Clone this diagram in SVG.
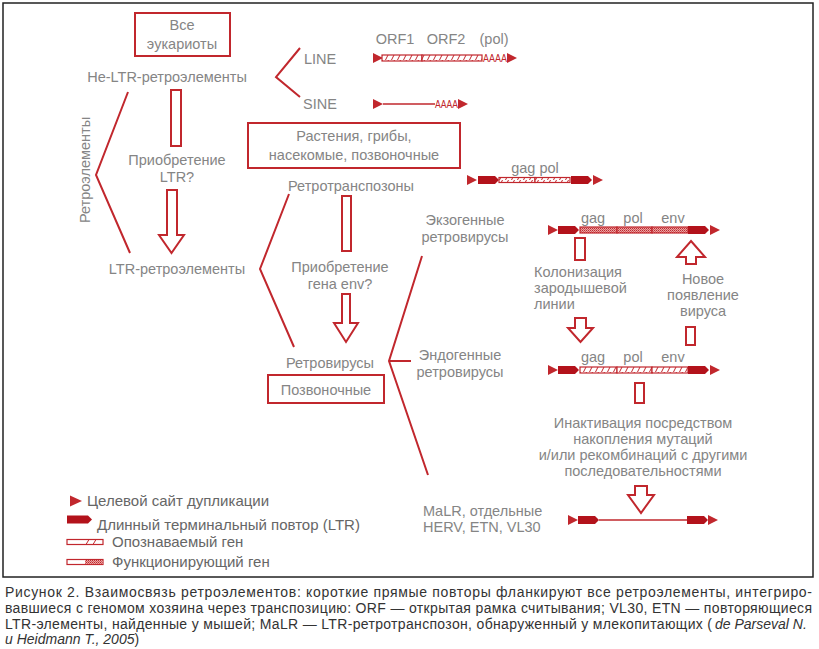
<svg xmlns="http://www.w3.org/2000/svg" width="819" height="649" viewBox="0 0 819 649">
<style>
.t{font-family:"Liberation Sans",Arial,sans-serif;font-size:14.5px;fill:#858585}
.c{text-anchor:middle}
.lg{font-family:"Liberation Sans",Arial,sans-serif;font-size:15px;fill:#666}
.cap{font-family:"Liberation Sans",Arial,sans-serif;font-size:14px;fill:#333}
.box{fill:#fff;stroke:#c1272d;stroke-width:2}
.br{fill:none;stroke:#c1272d;stroke-width:2}
.ha{fill:#fff;stroke:#c1272d;stroke-width:2}
.ln{stroke:#c1272d;stroke-width:1.3;fill:none}
.gh{fill:url(#hatch);stroke:#c1272d;stroke-width:1.2}
.gf{fill:url(#func);stroke:#c1272d;stroke-width:1.2}
.aa{font-family:"Liberation Sans",Arial,sans-serif;font-size:11px;fill:#c1272d}
</style>
<defs>
<pattern id="hatch" width="6" height="6" patternUnits="userSpaceOnUse"><rect width="6" height="6" fill="#fff"/><path d="M1.5,6 L4.5,0" stroke="#c1272d" stroke-width="1"/></pattern>
<pattern id="func" width="2" height="2" patternUnits="userSpaceOnUse"><rect width="2" height="2" fill="#e9a5a5"/><rect width="1" height="1" fill="#c1272d"/><rect x="1" y="1" width="1" height="1" fill="#d35b5b"/></pattern>
<polygon id="tsd" points="0,-5 10,0 0,5" fill="#c1272d"/>
<polygon id="ltr" points="0,-4 17,-4 21,0 17,4 0,4" fill="#b3121b"/>
</defs>
<rect x="3" y="3" width="810" height="574" fill="#fff" stroke="#222" stroke-width="1.5"/>

<g id="connectors">
<polyline class="br" points="128,92 96,175 130,253"/>
<polyline class="br" points="300,48 276,77 300,97"/>
<polyline class="br" points="289,194 260,269 294,347"/>
<polyline class="br" points="422,256 389,361 428,475"/>
<line class="br" x1="389" y1="361" x2="411" y2="361"/>
</g>

<g id="node-eukaryotes">
<rect class="box" x="135" y="13" width="95" height="43"/>
<text class="t c" x="182" y="30">Все</text>
<text class="t c" x="182" y="49">эукариоты</text>
</g>
<g id="node-nonltr"><text class="t c" x="167" y="82" font-size="15.5">Не-LTR-ретроэлементы</text></g>
<g id="node-line-label"><text class="t c" x="320" y="64">LINE</text></g>
<g id="node-sine-label"><text class="t c" x="320" y="109">SINE</text></g>
<g id="node-line-element">
<text class="t c" x="395" y="44">ORF1</text>
<text class="t c" x="446" y="44">ORF2</text>
<text class="t c" x="494" y="44">(pol)</text>
<use href="#tsd" x="373" y="58"/>
<rect class="gh" x="382" y="55" width="40" height="6"/>
<rect class="gh" x="422" y="55" width="60" height="6"/>
<text class="aa" x="483" y="62" textLength="24" lengthAdjust="spacingAndGlyphs">AAAA</text>
<use href="#tsd" x="507" y="58"/>
</g>
<g id="node-sine-element">
<use href="#tsd" x="373" y="104"/>
<line class="ln" x1="383" y1="104" x2="435" y2="104"/>
<text class="aa" x="435" y="108" textLength="23" lengthAdjust="spacingAndGlyphs">AAAA</text>
<use href="#tsd" x="458" y="104"/>
</g>
<g id="node-acq-ltr">
<rect class="ha" x="171" y="90" width="10" height="56"/>
<text class="t c" x="177" y="165">Приобретение</text>
<text class="t c" x="177" y="182">LTR?</text>
<polygon class="ha" points="167,190 177,190 177,235 184,235 171.5,253 159,235 167,235"/>
</g>
<g id="node-ltr"><text class="t c" x="177" y="274" font-size="15.5">LTR-ретроэлементы</text></g>
<g id="node-retroelements"><text class="t c" transform="translate(90,170) rotate(-90)" font-size="15.5">Ретроэлементы</text></g>
<g id="node-plants">
<rect class="box" x="248" y="123" width="212" height="45"/>
<text class="t c" x="354" y="141">Растения, грибы,</text>
<text class="t c" x="354" y="160">насекомые, позвоночные</text>
</g>
<g id="node-retrotransposons"><text class="t c" x="351" y="191" font-size="15">Ретротранспозоны</text></g>
<g id="node-rt-element">
<text class="t c" x="535" y="173">gag pol</text>
<use href="#tsd" x="467" y="180"/>
<use href="#ltr" x="478" y="180"/>
<rect class="gh" x="499" y="177.5" width="36" height="5"/>
<rect class="gh" x="535" y="177.5" width="35" height="5"/>
<use href="#ltr" x="571" y="180"/>
<use href="#tsd" x="593" y="180"/>
</g>
<g id="node-acq-env">
<rect class="ha" x="342" y="196" width="9" height="55"/>
<text class="t c" x="340" y="272">Приобретение</text>
<text class="t c" x="340" y="289">гена env?</text>
<polygon class="ha" points="342,294 350,294 350,323 358,323 346,342 334,323 342,323"/>
</g>
<g id="node-retroviruses"><text class="t c" x="330" y="368" font-size="15">Ретровирусы</text></g>
<g id="node-vertebrates">
<rect class="box" x="268" y="375" width="116" height="28"/>
<text class="t c" x="326" y="395" font-size="15">Позвоночные</text>
</g>
<g id="node-exo-label">
<text class="t c" x="465" y="225">Экзогенные</text>
<text class="t c" x="465" y="242">ретровирусы</text>
</g>
<g id="node-exo-element">
<text class="t c" x="593" y="223">gag</text>
<text class="t c" x="633" y="223">pol</text>
<text class="t c" x="673" y="223">env</text>
<use href="#tsd" x="548" y="230"/>
<use href="#ltr" x="558" y="230"/>
<rect class="gf" x="580" y="227" width="37" height="6"/>
<rect class="gf" x="617" y="227" width="35" height="6"/>
<rect class="gf" x="652" y="227" width="36" height="6"/>
<use href="#ltr" x="688" y="230"/>
<use href="#tsd" x="710" y="230"/>
</g>
<g id="node-colonization">
<rect class="ha" x="575" y="238" width="10" height="22"/>
<text class="t" x="534" y="277">Колонизация</text>
<text class="t" x="534" y="293">зародышевой</text>
<text class="t" x="534" y="309">линии</text>
<polygon class="ha" points="575,318 586,318 586,328 593,328 580.5,342 568,328 575,328"/>
</g>
<g id="node-new-virus">
<polygon class="ha" points="691,241 705,257 696,257 696,264 686,264 686,257 677,257"/>
<text class="t c" x="703" y="284">Новое</text>
<text class="t c" x="703" y="300">появление</text>
<text class="t c" x="703" y="316">вируса</text>
<rect class="ha" x="686" y="327" width="9" height="18"/>
</g>
<g id="node-endo-label">
<text class="t c" x="460" y="360">Эндогенные</text>
<text class="t c" x="460" y="377">ретровирусы</text>
</g>
<g id="node-endo-element">
<text class="t c" x="593" y="362">gag</text>
<text class="t c" x="633" y="362">pol</text>
<text class="t c" x="673" y="362">env</text>
<use href="#tsd" x="548" y="370"/>
<use href="#ltr" x="558" y="370"/>
<rect class="gh" x="580" y="367" width="37" height="6"/>
<rect class="gh" x="617" y="367" width="35" height="6"/>
<rect class="gh" x="652" y="367" width="36" height="6"/>
<use href="#ltr" x="688" y="370"/>
<use href="#tsd" x="710" y="370"/>
</g>
<g id="node-inactivation">
<rect class="ha" x="635" y="383" width="9" height="20"/>
<text class="t c" x="643" y="428">Инактивация посредством</text>
<text class="t c" x="643" y="444">накопления мутаций</text>
<text class="t c" x="643" y="460">и/или рекомбинаций с другими</text>
<text class="t c" x="643" y="476">последовательностями</text>
<polygon class="ha" points="635,486 647,486 647,495 654,495 641,513 628,495 635,495"/>
</g>
<g id="node-malr-label">
<text class="t" x="423" y="516">MaLR, отдельные</text>
<text class="t" x="423" y="532">HERV, ETN, VL30</text>
</g>
<g id="node-malr-element">
<use href="#tsd" x="568" y="520"/>
<use href="#ltr" x="578" y="520"/>
<line class="ln" x1="599" y1="520" x2="687" y2="520"/>
<use href="#ltr" x="687" y="520"/>
<use href="#tsd" x="708" y="520"/>
</g>
<g id="legend">
<polygon points="70,495.5 82,501 70,506.5" fill="#c1272d"/>
<text class="lg" x="87" y="506">Целевой сайт дупликации</text>
<polygon points="67,515.5 88,515.5 92,519.5 88,523.5 67,523.5" fill="#b3121b"/>
<text class="lg" x="97" y="530">Длинный терминальный повтор (LTR)</text>
<rect x="67" y="539.5" width="36" height="5" fill="#fff" stroke="#c1272d" stroke-width="1.2"/>
<path d="M86,544.5 L89,539.5 M93,544.5 L96,539.5" stroke="#c1272d" stroke-width="1"/>
<text class="lg" x="112" y="547">Опознаваемый ген</text>
<rect x="67" y="559.5" width="36" height="5" fill="#fff" stroke="#c1272d" stroke-width="1.2"/>
<rect x="85" y="560" width="17.5" height="4" fill="url(#func)"/>
<text class="lg" x="112" y="567">Функционирующий ген</text>
</g>
<g id="caption">
<text class="cap" x="5" y="597" textLength="807" lengthAdjust="spacing">Рисунок 2. Взаимосвязь ретроэлементов: короткие прямые повторы фланкируют все ретроэлементы, интегриро-</text>
<text class="cap" x="5" y="613" textLength="807" lengthAdjust="spacing">вавшиеся с геномом хозяина через транспозицию: ORF — открытая рамка считывания; VL30, ETN — повторяющиеся</text>
<text class="cap" x="5" y="629" textLength="707" lengthAdjust="spacing">LTR-элементы, найденные у мышей; MaLR — LTR-ретротранспозон, обнаруженный у млекопитающих (</text>
<text class="cap" x="715" y="629" font-style="italic">de Parseval N.</text>
<text class="cap" x="5" y="644"><tspan font-style="italic">и Heidmann T., 2005</tspan>)</text>
</g>
</svg>
